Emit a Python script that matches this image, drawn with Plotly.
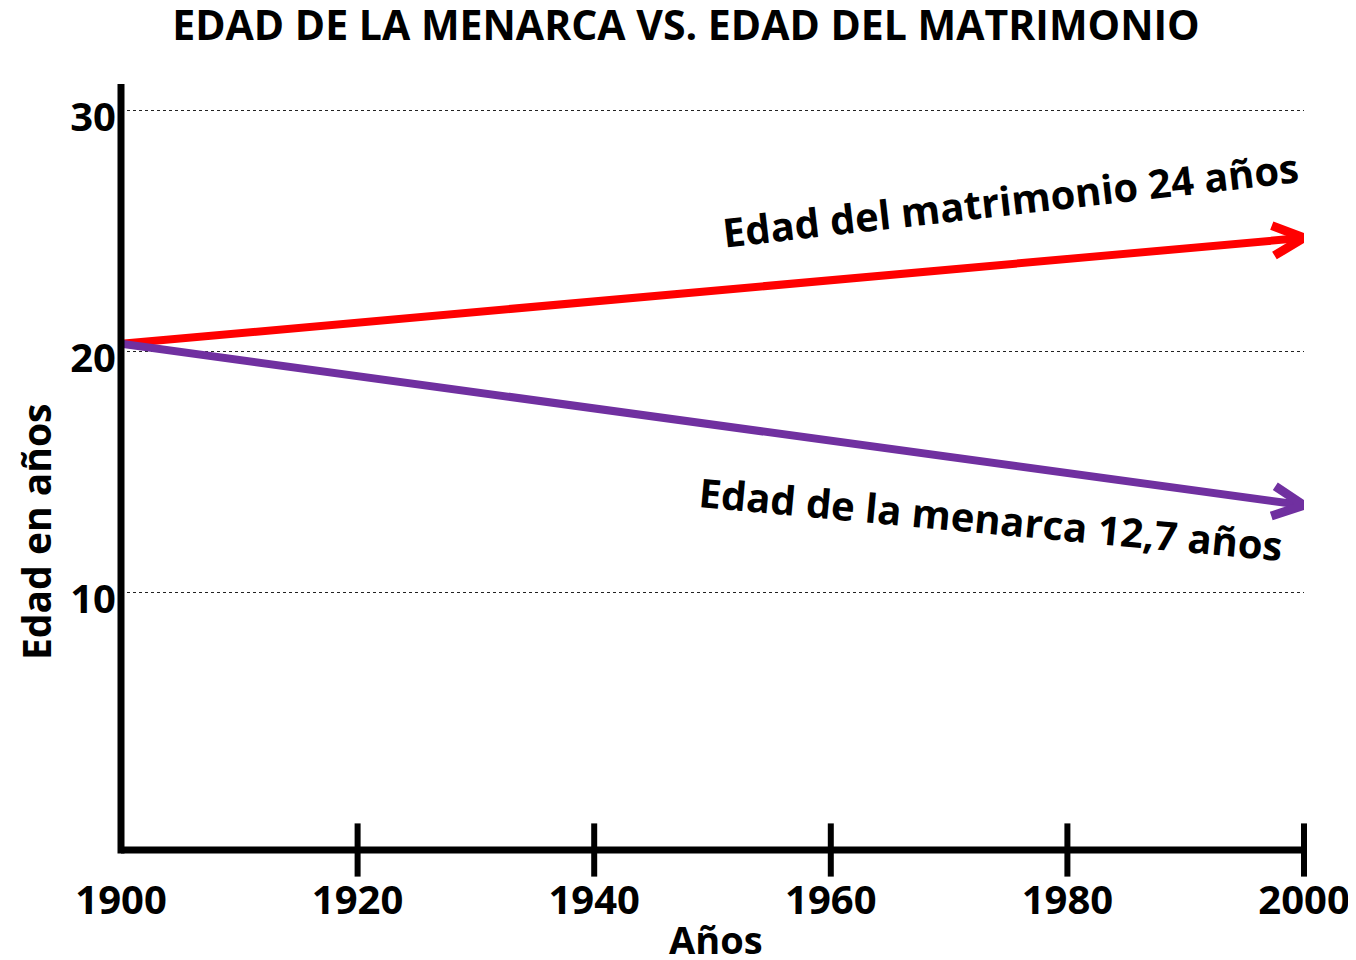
import numpy as np
import plotly.graph_objects as go

# ---- data ----
years = [1900, 2000]
edad_matrimonio = [20.3, 24.7]
edad_menarca = [20.3, 13.6]
x_tick_vals = [1900, 1920, 1940, 1960, 1980, 2000]
x_tick_marks = [1920, 1940, 1960, 1980, 2000]
y_tick_vals = [10, 20, 30]
label_matrimonio = "Edad del matrimonio 24 años"
label_menarca = "Edad de la menarca 12,7 años"
title_text = "EDAD DE LA MENARCA VS. EDAD DEL MATRIMONIO"
x_title = "Años"
y_title = "Edad en años"

RED = "#ff0000"
PURPLE = "#7030a0"
FONT = "Open Sans"

# page has an 8px body margin
OFF = 8
W, H = 1356 - OFF, 960 - OFF
ml = 121 - OFF
mt = 84 - OFF
mr = W - (1304 - OFF)
mb = H - (850 - OFF)
xr = [1900, 2000]
yr = [-0.7, 31.08]
pw = W - ml - mr
ph = H - mt - mb
sx = pw / (xr[1] - xr[0])
sy = ph / (yr[1] - yr[0])


def to_px(x, y):
    return np.array([(x - xr[0]) * sx, -(y - yr[0]) * sy])


def to_data(p):
    return xr[0] + p[0] / sx, yr[0] - p[1] / sy


def chevron(xs, ys, back=31, half=15):
    a = to_px(xs[0], ys[0])
    b = to_px(xs[-1], ys[-1])
    u = (b - a) / np.linalg.norm(b - a)
    n = np.array([-u[1], u[0]])
    w1 = b - back * u + half * n
    w2 = b - back * u - half * n
    pts = [to_data(w1), to_data(b), to_data(w2)]
    return [p[0] for p in pts], [p[1] for p in pts]


fig = go.Figure()

for ys, col in [(edad_matrimonio, RED), (edad_menarca, PURPLE)]:
    fig.add_trace(go.Scatter(x=years, y=ys, mode="lines",
                             line=dict(color=col, width=8),
                             hoverinfo="skip", showlegend=False))
    cx, cy = chevron(years, ys)
    fig.add_trace(go.Scatter(x=cx, y=cy, mode="lines",
                             line=dict(color=col, width=9),
                             hoverinfo="skip", showlegend=False, cliponaxis=False))

# tick marks crossing the x axis
fig.add_trace(go.Scatter(x=x_tick_marks, y=[yr[0]] * len(x_tick_marks), mode="markers",
                         marker=dict(symbol="line-ns", size=38,
                                     line=dict(color="black", width=6)),
                         hoverinfo="skip", showlegend=False, cliponaxis=False))

fig.update_layout(
    width=W, height=H, autosize=False,
    margin=dict(l=ml, r=mr, t=mt, b=mb, autoexpand=False),
    paper_bgcolor="white", plot_bgcolor="white",
    font=dict(family=FONT, color="black"),
    title=dict(text="<b>" + title_text + "</b>", x=(686 - OFF) / W, xanchor="center",
               y=1 - (26 - OFF) / H, yanchor="middle", yref="container",
               automargin=False,
               font=dict(family=FONT, size=41, color="black")),
    xaxis=dict(range=xr, tickvals=x_tick_vals, ticktext=[f"<b>{v}</b>" for v in x_tick_vals],
               showgrid=False, zeroline=False, showline=False, ticks="",
               tickfont=dict(family=FONT, size=40, color="black"),
               ticklabelstandoff=23, automargin=False, fixedrange=True),
    yaxis=dict(range=yr, tickvals=y_tick_vals, ticktext=[f"<b>{v}</b>" for v in y_tick_vals],
               showgrid=True, gridcolor="#222222", gridwidth=1, griddash="dot",
               zeroline=False, showline=False, ticks="",
               tickfont=dict(family=FONT, size=40, color="black"),
               ticklabelstandoff=4, ticklabelshift=7, automargin=False, fixedrange=True),
    shapes=[
        dict(type="line", xref="paper", yref="paper", x0=0, x1=0, y0=-3.5 / ph, y1=1,
             line=dict(color="black", width=7), layer="above"),
        dict(type="line", xref="paper", yref="paper", x0=0, x1=1, y0=0, y1=0,
             line=dict(color="black", width=7), layer="above"),
    ],
    annotations=[
        dict(text="<b>" + label_matrimonio + "</b>", x=1975.2, y=26.27, xref="x", yref="y",
             showarrow=False, textangle=-6.5, xanchor="center", yanchor="middle",
             font=dict(family=FONT, size=40, color="black")),
        dict(text="<b>" + label_menarca + "</b>", x=1973.5, y=13.07, xref="x", yref="y",
             showarrow=False, textangle=5.3, xanchor="center", yanchor="middle",
             font=dict(family=FONT, size=40, color="black")),
        dict(text="<b>" + y_title + "</b>", x=(35 - 121) / pw, y=(850 - 532) / ph,
             xref="paper", yref="paper", showarrow=False, textangle=-90,
             xanchor="center", yanchor="middle",
             font=dict(family=FONT, size=39, color="black")),
        dict(text="<b>" + x_title + "</b>", x=(716 - 121) / pw, y=(850 - 939) / ph,
             xref="paper", yref="paper", showarrow=False,
             xanchor="center", yanchor="middle",
             font=dict(family=FONT, size=38, color="black")),
    ],
)

fig.write_html("out.html")
